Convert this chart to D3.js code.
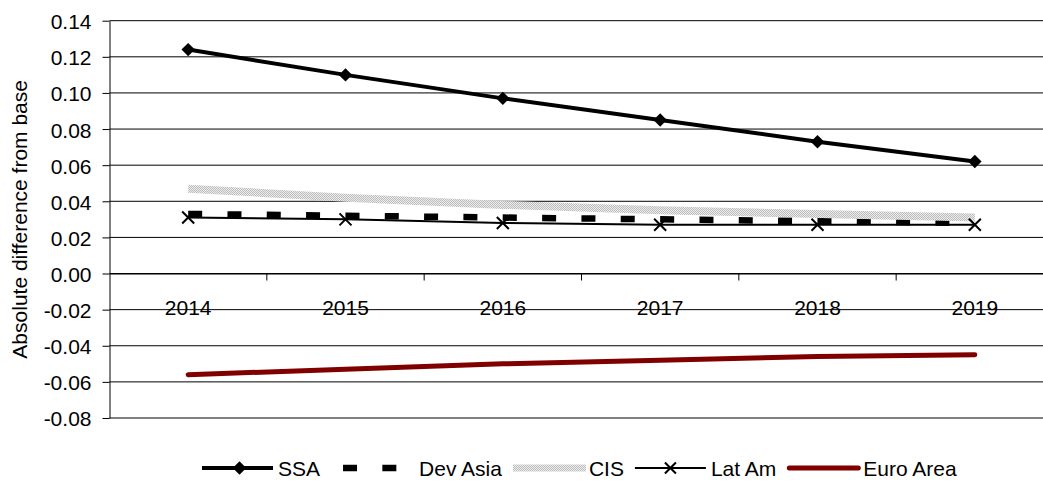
<!DOCTYPE html>
<html>
<head>
<meta charset="utf-8">
<script src="https://cdn.jsdelivr.net/npm/d3@7"></script>
<style>
  html, body { margin: 0; padding: 0; background: #fff; }
  svg { display: block; font-family: Arial, "Liberation Sans", sans-serif; }
</style>
</head>
<body>
<svg id="chart" width="1043" height="482"></svg>
<script>
const years = ["2014", "2015", "2016", "2017", "2018", "2019"];
const ssa = [0.124, 0.110, 0.097, 0.085, 0.073, 0.062];
const devAsia = [0.033, 0.032, 0.031, 0.030, 0.029, 0.028];
const cis = [0.047, 0.042, 0.038, 0.035, 0.033, 0.031];
const latAm = [0.031, 0.030, 0.028, 0.027, 0.027, 0.027];
const euroArea = [-0.056, -0.053, -0.050, -0.048, -0.046, -0.045];
const yTicks = [0.14, 0.12, 0.10, 0.08, 0.06, 0.04, 0.02, 0.00, -0.02, -0.04, -0.06, -0.08];
const seriesNames = ["SSA", "Dev Asia", "CIS", "Lat Am", "Euro Area"];
const yTitle = "Absolute difference from base";

const FONT = 21;
const svg = d3.select("#chart");

const defs = svg.append("defs");
const pat = defs.append("pattern").attr("id", "cisPat")
  .attr("patternUnits", "userSpaceOnUse").attr("width", 2).attr("height", 2);
pat.append("rect").attr("width", 2).attr("height", 2).attr("fill", "#ececec");
pat.append("rect").attr("width", 1).attr("height", 1).attr("fill", "#bdbdbd");
pat.append("rect").attr("x", 1).attr("y", 1).attr("width", 1).attr("height", 1).attr("fill", "#bdbdbd");

const plotLeft = 109.5, plotRight = 1053.5, plotTop = 20.7, plotBottom = 418;
const x = d3.scaleBand().domain(years).range([plotLeft, plotRight]).padding(0);
const y = d3.scaleLinear().domain([-0.08, 0.14]).range([plotBottom, plotTop]);
const cx = d => x(d) + x.bandwidth() / 2;

// gridlines
svg.append("g").selectAll("line").data(yTicks).join("line")
  .attr("x1", plotLeft).attr("x2", plotRight)
  .attr("y1", d => y(d)).attr("y2", d => y(d))
  .attr("stroke", "#000").attr("stroke-width", 1);

// y axis
const yAxis = svg.append("g").attr("transform", `translate(${plotLeft},0)`)
  .call(d3.axisLeft(y).tickValues(yTicks).tickFormat(d => d.toFixed(2))
    .tickSizeInner(7).tickSizeOuter(0).tickPadding(11));
yAxis.select(".domain").attr("stroke", "#000");
yAxis.selectAll(".tick line").attr("stroke", "#000");
yAxis.selectAll("text").attr("font-size", FONT).attr("fill", "#000")
  .attr("font-family", "Arial, 'Liberation Sans', sans-serif").attr("dy", "0.38em");

// x axis at zero
const xAxis = svg.append("g").attr("transform", `translate(0,${y(0)})`)
  .call(d3.axisBottom(x).tickSize(0).tickPadding(27).tickSizeOuter(0));
xAxis.select(".domain").attr("stroke", "#000");
xAxis.selectAll("text").attr("font-size", FONT).attr("fill", "#000")
  .attr("font-family", "Arial, 'Liberation Sans', sans-serif");
// tick marks at category boundaries
xAxis.append("g").selectAll("line").data(years.slice(1)).join("line")
  .attr("x1", d => x(d)).attr("x2", d => x(d))
  .attr("y1", 0).attr("y2", 7).attr("stroke", "#000");

// y axis title
svg.append("text")
  .attr("transform", `translate(27,${(plotTop + plotBottom) / 2}) rotate(-90)`)
  .attr("text-anchor", "middle").attr("font-size", FONT).attr("fill", "#000")
  .text(yTitle);

const line = d3.line().x((d, i) => cx(years[i])).y(d => y(d));

// SSA
svg.append("path").attr("d", line(ssa)).attr("fill", "none")
  .attr("stroke", "#000").attr("stroke-width", 4);
const diamond = d3.symbol().type(d3.symbolDiamond2).size(115);
svg.append("g").selectAll("path").data(ssa).join("path")
  .attr("d", diamond)
  .attr("transform", (d, i) => `translate(${cx(years[i])},${y(d)})`)
  .attr("fill", "#000");

// Dev Asia: dashed, pattern restarts per segment
const segs = d3.range(devAsia.length - 1).map(i => [i, i + 1]);
svg.append("g").selectAll("path").data(segs).join("path")
  .attr("d", s => d3.line()([[cx(years[s[0]]), y(devAsia[s[0]])], [cx(years[s[1]]), y(devAsia[s[1]])]]))
  .attr("fill", "none").attr("stroke", "#000").attr("stroke-width", 6.5)
  .attr("stroke-dasharray", "14,25.3");

// CIS
svg.append("path").attr("d", line(cis)).attr("fill", "none")
  .attr("stroke", "url(#cisPat)").attr("stroke-width", 8);

// Lat Am
svg.append("path").attr("d", line(latAm)).attr("fill", "none")
  .attr("stroke", "#000").attr("stroke-width", 2);
const xMark = s => `M${-s},${-s}L${s},${s}M${-s},${s}L${s},${-s}`;
svg.append("g").selectAll("path").data(latAm).join("path")
  .attr("d", xMark(6))
  .attr("transform", (d, i) => `translate(${cx(years[i])},${y(d)})`)
  .attr("stroke", "#000").attr("stroke-width", 2).attr("fill", "none");

// Euro Area
svg.append("path").attr("d", line(euroArea)).attr("fill", "none")
  .attr("stroke", "#800000").attr("stroke-width", 5).attr("stroke-linecap", "round");

// legend
const leg = svg.append("g");
const legY = 468, textBase = 476, sample = 71;
let lx = 202;
seriesNames.forEach((name, k) => {
  const g = leg.append("g");
  if (k === 0) {
    g.append("line").attr("x1", lx).attr("x2", lx + sample).attr("y1", legY).attr("y2", legY)
      .attr("stroke", "#000").attr("stroke-width", 4);
    g.append("path").attr("d", diamond).attr("transform", `translate(${lx + sample / 2 + 2},${legY})`).attr("fill", "#000");
  } else if (k === 1) {
    g.append("line").attr("x1", lx + 12).attr("x2", lx + sample + 12).attr("y1", legY).attr("y2", legY)
      .attr("stroke", "#000").attr("stroke-width", 6.5).attr("stroke-dasharray", "14,25.3");
    lx += 12;
  } else if (k === 2) {
    g.append("line").attr("x1", lx).attr("x2", lx + sample + 2).attr("y1", legY).attr("y2", legY)
      .attr("stroke", "url(#cisPat)").attr("stroke-width", 7);
  } else if (k === 3) {
    g.append("line").attr("x1", lx).attr("x2", lx + sample).attr("y1", legY).attr("y2", legY)
      .attr("stroke", "#000").attr("stroke-width", 2);
    g.append("path").attr("d", xMark(5.5)).attr("transform", `translate(${lx + sample / 2},${legY})`)
      .attr("stroke", "#000").attr("stroke-width", 2);
  } else {
    g.append("line").attr("x1", lx + 2).attr("x2", lx + sample).attr("y1", legY).attr("y2", legY)
      .attr("stroke", "#800000").attr("stroke-width", 5).attr("stroke-linecap", "round");
  }
  const t = g.append("text").attr("x", lx + sample + 5).attr("y", textBase)
    .attr("font-size", FONT).attr("fill", "#000").text(name);
  const w = t.node().getComputedTextLength();
  lx = lx + sample + 5 + w + 11;
});
</script>
</body>
</html>
